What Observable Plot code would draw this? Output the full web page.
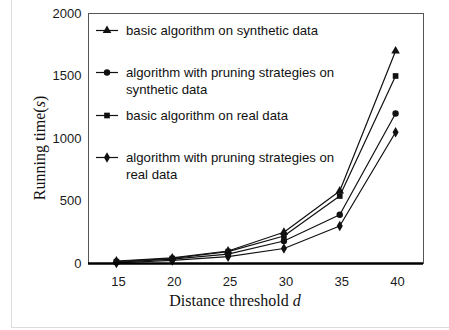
<!DOCTYPE html>
<html>
<head>
<meta charset="utf-8">
<script src="https://cdn.jsdelivr.net/npm/d3@7"></script>
<script src="https://cdn.jsdelivr.net/npm/@observablehq/plot@0.6"></script>
<style>
  html, body { margin: 0; padding: 0; background: #fff; }
  #wrap { position: relative; width: 449px; height: 330px; overflow: hidden; }
  #border { position: absolute; left: 11px; top: -2px; width: 445px; height: 330px; border: 1px solid #dcdcdc; box-sizing: border-box; pointer-events: none; }
  #legend { position: absolute; left: 96px; top: 0; font-family: "Liberation Sans", Arial, sans-serif; font-size: 13.2px; color: #111; }
  .item { position: absolute; left: 0; white-space: nowrap; }
  .item svg { position: absolute; left: 0; top: 0; }
  .item span { position: absolute; left: 30px; line-height: 17px; }
</style>
</head>
<body>
<div id="wrap"><div id="chart"></div><div id="legend"></div><div id="border"></div></div>
<script>
const thresholds = [15, 20, 25, 30, 35, 40];
const seriesNames = [
  "basic algorithm on synthetic data",
  "algorithm with pruning strategies on synthetic data",
  "basic algorithm on real data",
  "algorithm with pruning strategies on real data"
];
const legendLines = [
  ["basic algorithm on synthetic data"],
  ["algorithm with pruning strategies on", "synthetic data"],
  ["basic algorithm on real data"],
  ["algorithm with pruning strategies on", "real data"]
];
const symbols = ["triangle", "circle", "square", "diamond"];
const basicSynthetic = [20, 45, 100, 250, 580, 1700];
const pruningSynthetic = [10, 35, 75, 180, 390, 1200];
const basicReal = [15, 40, 95, 220, 540, 1500];
const pruningReal = [5, 25, 55, 120, 300, 1050];
const yTicks = [0, 500, 1000, 1500, 2000];

const allSeries = [basicSynthetic, pruningSynthetic, basicReal, pruningReal];
const data = [];
allSeries.forEach((vals, i) => {
  vals.forEach((v, j) => data.push({series: seriesNames[i], sym: symbols[i], d: thresholds[j], t: v}));
});

const chart = Plot.plot({
  width: 449,
  height: 330,
  marginLeft: 88,
  marginRight: 26,
  marginTop: 13,
  marginBottom: 67,
  style: {fontFamily: "'Liberation Sans', Arial, sans-serif", fontSize: "13px", color: "#1a1a1a", background: "transparent"},
  x: {domain: [12.5, 42.5]},
  y: {domain: [0, 2000]},
  symbol: {domain: symbols, range: symbols},
  marks: [
    Plot.axisX({ticks: thresholds, tickSize: 0, tickPadding: 13, label: null, tickFormat: d => String(d), fontSize: 13, dx: 2}),
    Plot.axisY({ticks: yTicks, tickSize: 0, tickPadding: 7, label: null, tickFormat: d => String(d), fontSize: 13}),
    Plot.frame({stroke: "#555", strokeWidth: 1}),
    Plot.line(data, {x: "d", y: "t", z: "series", stroke: "#111", strokeWidth: 1.2}),
    Plot.dot(data, {x: "d", y: "t", symbol: "sym", fill: "#111", stroke: "none", r: 3.2}),
    Plot.ruleY([0], {stroke: "#000", strokeWidth: 2.5})
  ]
});
document.getElementById("chart").appendChild(chart);

// axis titles (serif, with italic symbols)
const svg = d3.select(chart);
const yt = svg.append("text")
  .attr("transform", "translate(45,148) rotate(-90)")
  .attr("text-anchor", "middle")
  .attr("font-family", "'Liberation Serif', 'Times New Roman', serif")
  .attr("font-size", 16)
  .attr("fill", "#111");
yt.append("tspan").text("Running time(");
yt.append("tspan").attr("font-style", "italic").text("s");
yt.append("tspan").text(")");
const xt = svg.append("text")
  .attr("x", 235).attr("y", 306)
  .attr("text-anchor", "middle")
  .attr("font-family", "'Liberation Serif', 'Times New Roman', serif")
  .attr("font-size", 16)
  .attr("fill", "#111");
xt.append("tspan").text("Distance threshold ");
xt.append("tspan").attr("font-style", "italic").text("d");

// legend
const legendTops = [22, 64, 107, 149];
const legend = d3.select("#legend");
legendLines.forEach((lines, i) => {
  const item = legend.append("div").attr("class", "item").style("top", legendTops[i] + "px");
  const s = item.append("svg").attr("width", 24).attr("height", 17);
  s.append("line").attr("x1", 0).attr("x2", 22).attr("y1", 8.5).attr("y2", 8.5).attr("stroke", "#111").attr("stroke-width", 1.2);
  const symMap = {triangle: d3.symbolTriangle, circle: d3.symbolCircle, square: d3.symbolSquare, diamond: d3.symbolDiamond};
  s.append("path").attr("transform", "translate(11,8.5)").attr("d", d3.symbol(symMap[symbols[i]], Math.PI * 3.2 * 3.2)()).attr("fill", "#111");
  lines.forEach((ln, k) => {
    item.append("span").style("top", (k * 17) + "px").text(ln);
  });
});
</script>
</body>
</html>
